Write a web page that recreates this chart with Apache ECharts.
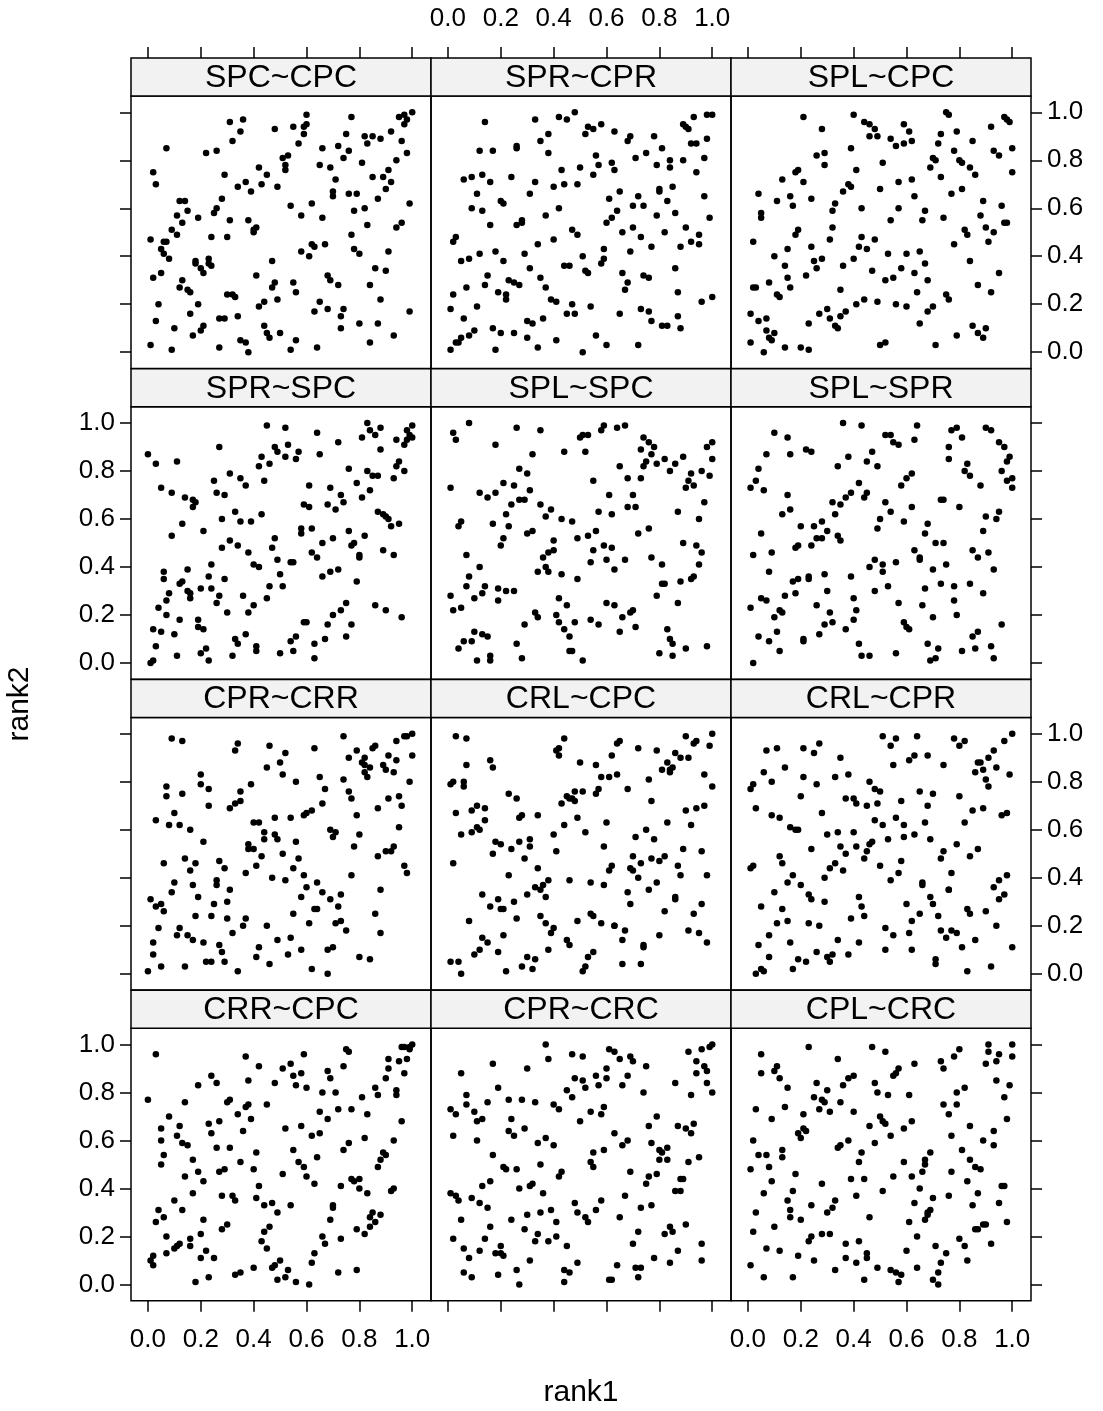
<!DOCTYPE html>
<html><head><meta charset="utf-8">
<script src="https://cdn.jsdelivr.net/npm/echarts@6/dist/echarts.min.js"></script>
<style>html,body{margin:0;padding:0;background:#fff}#c{width:1103px;height:1411px}</style>
</head><body><div id="c"></div>
<script>
const stripNames = ['SPC~CPC','SPR~CPR','SPL~CPC','SPR~SPC','SPL~SPC','SPL~SPR','CPR~CRR','CRL~CPC','CRL~CPR','CRR~CPC','CPR~CRC','CPL~CRC'];
const tickValues = [0,0.2,0.4,0.6,0.8,1.0];
const xTitle = 'rank1', yTitle = 'rank2';

const panel1 = [[1.00,1.00],[.97,.99],[.95,.98],[.98,.97],[.97,.95],[.60,.99],[.77,.98],[.31,.96],[.36,.97],[.35,.92],[.32,.88],[.48,.93],[.55,.94],[.60,.95],[.59,.94],[.59,.91],[.57,.87],[.75,.91],[.82,.90],[.85,.90],[.88,.89],[.92,.92],[.83,.87],[.96,.88],[.07,.85],[.22,.83],[.26,.84],[.66,.85],[.72,.86],[.76,.84],[.74,.81],[.98,.83],[.53,.82],[.51,.81],[.52,.78],[.52,.76],[.65,.78],[.69,.77],[.81,.79],[.94,.80],[.42,.77],[.45,.74],[.29,.74],[.02,.75],[.03,.70],[.34,.69],[.37,.71],[.39,.67],[.43,.70],[.49,.69],[.71,.72],[.85,.73],[.89,.73],[.91,.76],[.92,.71],[.90,.68],[.70,.67],[.70,.65],[.76,.66],[.79,.66],[.87,.64],[.99,.62],[.28,.64],[.12,.63],[.14,.63],[.11,.57],[.15,.59],[.13,.54],[.19,.56],[.26,.60],[.25,.58],[.54,.61],[.62,.62],[.58,.57],[.66,.56],[.78,.59],[.82,.60],[.83,.53],[.77,.49],[.96,.54],[.94,.52],[.31,.55],[.38,.55],[.41,.52],[.40,.51],[.40,.50],[.30,.48],[.24,.48],[.09,.51],[.11,.49],[.01,.47],[.06,.46],[.07,.46],[.05,.43],[.06,.41],[.08,.39],[.62,.45],[.63,.44],[.67,.45],[.58,.42],[.61,.40],[.78,.43],[.80,.41],[.91,.42],[.18,.38],[.18,.37],[.23,.39],[.23,.37],[.24,.36],[.20,.35],[.21,.33],[.47,.38],[.86,.35],[.90,.34],[.02,.31],[.05,.33],[.13,.30],[.12,.27],[.15,.26],[.16,.25],[.41,.32],[.48,.29],[.47,.27],[.55,.29],[.56,.25],[.68,.32],[.69,.30],[.72,.28],[.84,.28],[.88,.22],[.30,.24],[.32,.24],[.33,.23],[.49,.22],[.44,.21],[.42,.19],[.04,.20],[.19,.20],[.16,.16],[.03,.13],[.10,.10],[.27,.14],[.29,.14],[.34,.15],[.65,.21],[.68,.18],[.63,.17],[.74,.18],[.73,.15],[.73,.10],[.80,.12],[.87,.12],[.99,.17],[.44,.11],[.45,.08],[.46,.06],[.50,.08],[.21,.11],[.20,.09],[.17,.07],[.35,.05],[.37,.04],[.38,.00],[.27,.02],[.01,.03],[.09,.01],[.56,.05],[.54,.01],[.64,.02],[.84,.04],[.93,.07]];
const panel2 = [[.48,1.0],[.42,.98],[.45,.97],[.33,.97],[.14,.96],[.98,.99],[1.0,.99],[.93,.98],[.89,.95],[.90,.94],[.91,.93],[.58,.95],[.53,.94],[.55,.93],[.52,.91],[.63,.92],[.69,.90],[.68,.88],[.78,.90],[.98,.89],[.38,.91],[.35,.88],[.38,.83],[.26,.86],[.26,.85],[.12,.84],[.17,.84],[.94,.87],[.92,.87],[.81,.85],[.75,.83],[.71,.81],[.56,.82],[.57,.78],[.62,.79],[.63,.76],[.55,.74],[.50,.77],[.43,.76],[.79,.78],[.84,.80],[.84,.77],[.89,.80],[.97,.81],[.94,.75],[.06,.72],[.09,.73],[.13,.74],[.16,.71],[.24,.73],[.33,.71],[.31,.66],[.40,.69],[.44,.70],[.49,.70],[.11,.66],[.20,.63],[.21,.62],[.09,.60],[.13,.59],[.16,.53],[.37,.57],[.42,.60],[.26,.53],[.28,.54],[.28,.55],[.47,.51],[.49,.49],[.61,.64],[.65,.67],[.64,.59],[.62,.56],[.60,.54],[.70,.61],[.72,.65],[.74,.61],[.80,.68],[.80,.67],[.83,.63],[.85,.69],[.86,.58],[.79,.57],[.97,.65],[.99,.56],[.66,.50],[.70,.52],[.73,.48],[.82,.50],[.90,.52],[.95,.49],[.92,.46],[.95,.45],[.88,.44],[.77,.44],[.69,.42],[.02,.46],[.03,.48],[.34,.45],[.40,.47],[.59,.43],[.59,.39],[.58,.37],[.51,.40],[.44,.36],[.46,.36],[.52,.34],[.53,.33],[.29,.41],[.31,.35],[.35,.31],[.18,.42],[.21,.38],[.12,.41],[.05,.38],[.08,.39],[.15,.32],[.14,.28],[.23,.30],[.25,.29],[.27,.28],[.19,.25],[.22,.24],[.22,.22],[.07,.27],[.02,.24],[.11,.19],[.01,.18],[.06,.14],[.37,.27],[.39,.22],[.41,.21],[.47,.20],[.48,.16],[.45,.16],[.54,.19],[.36,.14],[.32,.12],[.30,.13],[.30,.06],[.34,.02],[.41,.05],[.51,.00],[.56,.07],[.60,.03],[.72,.03],[.65,.16],[.66,.33],[.68,.29],[.67,.26],[.74,.32],[.76,.31],[.86,.35],[.87,.25],[.73,.18],[.76,.17],[.77,.13],[.81,.11],[.83,.11],[.87,.15],[.88,.10],[.96,.21],[1.0,.23],[.17,.10],[.20,.08],[.25,.08],[.10,.09],[.08,.07],[.05,.06],[.03,.04],[.04,.04],[.01,.01],[.18,.01]];
const panel3 = [[.40,.99],[.21,.98],[.28,.93],[.44,.96],[.46,.95],[.48,.93],[.46,.90],[.49,.90],[.54,.89],[.56,.86],[.59,.87],[.62,.88],[.59,.95],[.61,.92],[.75,1.0],[.76,.99],[.73,.91],[.72,.87],[.79,.92],[.85,.88],[.92,.94],[.97,.98],[.98,.97],[.99,.96],[1.0,.85],[.93,.84],[.95,.82],[1.0,.75],[.26,.82],[.29,.83],[.29,.78],[.39,.85],[.51,.79],[.41,.76],[.70,.81],[.71,.80],[.69,.77],[.78,.84],[.80,.80],[.81,.79],[.84,.77],[.86,.74],[.73,.73],[.19,.76],[.18,.75],[.21,.71],[.13,.72],[.04,.66],[.11,.63],[.16,.65],[.17,.61],[.24,.64],[.38,.70],[.39,.69],[.36,.67],[.33,.62],[.32,.59],[.43,.60],[.50,.68],[.57,.71],[.62,.72],[.63,.65],[.57,.60],[.54,.55],[.67,.59],[.66,.55],[.74,.56],[.77,.66],[.81,.68],[.89,.63],[.88,.57],[.96,.61],[.97,.54],[.98,.54],[.05,.58],[.05,.56],[.32,.52],[.19,.51],[.18,.49],[.24,.44],[.31,.47],[.43,.48],[.48,.47],[.42,.44],[.45,.43],[.40,.39],[.36,.36],[.28,.39],[.25,.38],[.26,.35],[.22,.32],[.15,.43],[.10,.40],[.14,.36],[.15,.31],[.16,.27],[.08,.29],[.02,.46],[.03,.27],[.02,.27],[.11,.24],[.12,.23],[.35,.26],[.47,.34],[.52,.30],[.55,.31],[.53,.41],[.60,.41],[.58,.35],[.65,.42],[.67,.37],[.63,.33],[.68,.30],[.64,.25],[.78,.45],[.82,.51],[.83,.49],[.91,.46],[.93,.50],[.90,.52],[.84,.38],[.95,.33],[.87,.28],[.92,.25],[.75,.24],[.76,.22],[.70,.19],[.68,.17],[.65,.12],[.49,.21],[.56,.20],[.60,.19],[.44,.22],[.41,.20],[.37,.17],[.35,.15],[.30,.18],[.31,.14],[.27,.16],[.33,.11],[.34,.10],[.23,.12],[.01,.16],[.04,.13],[.07,.14],[.07,.09],[.10,.08],[.08,.06],[.09,.05],[.01,.04],[.06,.00],[.14,.02],[.20,.02],[.23,.01],[.50,.03],[.52,.04],[.71,.03],[.79,.07],[.85,.11],[.87,.08],[.89,.06],[.90,.10]];
const panel4 = [[.45,.99],[.52,.98],[.64,.96],[.83,1.0],[.88,.98],[.84,.97],[.86,.95],[.81,.94],[.98,.97],[1.0,.99],[.99,.95],[1.0,.94],[.98,.93],[.94,.93],[.97,.91],[.88,.89],[.72,.92],[.53,.91],[.48,.90],[.49,.88],[.52,.86],[.57,.88],[.56,.85],[.65,.87],[.43,.86],[.46,.83],[.42,.82],[.44,.76],[.27,.90],[.00,.87],[.03,.83],[.11,.84],[.31,.79],[.35,.77],[.37,.74],[.25,.76],[.26,.71],[.29,.70],[.05,.73],[.09,.71],[.14,.69],[.17,.68],[.18,.67],[.17,.65],[.76,.81],[.83,.80],[.85,.78],[.87,.78],[.94,.82],[.95,.84],[.97,.80],[.93,.77],[.79,.75],[.84,.72],[.81,.69],[.69,.73],[.73,.70],[.74,.67],[.71,.64],[.68,.66],[.61,.74],[.59,.66],[.61,.65],[.87,.63],[.89,.62],[.90,.61],[.91,.60],[.92,.57],[.95,.58],[.33,.63],[.28,.60],[.35,.59],[.39,.59],[.43,.62],[.13,.58],[.09,.53],[.21,.55],[.58,.56],[.58,.54],[.62,.56],[.66,.50],[.70,.52],[.76,.55],[.78,.50],[.77,.49],[.82,.53],[.80,.45],[.80,.44],[.89,.47],[.93,.45],[.62,.46],[.64,.44],[.48,.52],[.47,.48],[.49,.43],[.54,.42],[.55,.42],[.66,.36],[.69,.38],[.72,.39],[.79,.34],[.31,.51],[.34,.49],[.28,.48],[.38,.46],[.40,.41],[.42,.40],[.24,.41],[.15,.39],[.06,.38],[.06,.35],[.12,.33],[.13,.34],[.23,.36],[.29,.35],[.50,.37],[.51,.32],[.46,.32],[.15,.30],[.16,.29],[.16,.27],[.20,.31],[.24,.31],[.27,.28],[.26,.25],[.08,.29],[.07,.26],[.04,.23],[.07,.20],[.12,.18],[.36,.28],[.40,.24],[.38,.21],[.30,.21],[.45,.27],[.75,.25],[.73,.22],[.70,.20],[.68,.16],[.77,.16],[.75,.11],[.67,.10],[.63,.08],[.59,.17],[.60,.17],[.56,.11],[.54,.09],[.55,.05],[.50,.04],[.63,.02],[.86,.24],[.90,.22],[.96,.19],[.37,.12],[.33,.10],[.34,.08],[.41,.07],[.41,.05],[.32,.03],[.19,.18],[.19,.15],[.21,.14],[.02,.14],[.05,.13],[.10,.12],[.03,.07],[.11,.03],[.20,.04],[.22,.06],[.23,.01],[.01,.00],[.02,.01]];
const panel5 = [[.08,1.0],[.02,.96],[.03,.93],[.26,.98],[.35,.97],[.18,.91],[.32,.87],[.44,.88],[.52,.88],[.50,.94],[.51,.95],[.53,.95],[.58,.97],[.59,.99],[.64,.98],[.67,.99],[.74,.94],[.76,.92],[.78,.90],[.77,.87],[.73,.89],[.75,.84],[.74,.82],[.79,.83],[.82,.85],[.86,.83],[.84,.80],[.89,.86],[.65,.82],[.68,.77],[.73,.77],[.55,.76],[1.0,.92],[.98,.90],[1.0,.85],[.92,.79],[.96,.80],[.99,.78],[.91,.76],[.93,.74],[.90,.73],[.97,.67],[.95,.60],[.87,.63],[.01,.73],[.27,.81],[.30,.79],[.21,.75],[.25,.74],[.31,.72],[.12,.71],[.15,.69],[.18,.71],[.27,.68],[.29,.68],[.24,.66],[.22,.62],[.23,.57],[.35,.66],[.39,.64],[.37,.61],[.43,.60],[.47,.59],[.61,.70],[.70,.70],[.68,.65],[.71,.65],[.57,.63],[.62,.62],[.76,.56],[.72,.54],[.05,.59],[.04,.57],[.17,.58],[.30,.54],[.32,.55],[.21,.52],[.20,.49],[.40,.51],[.38,.46],[.40,.47],[.36,.44],[.37,.40],[.34,.38],[.38,.38],[.43,.37],[.49,.35],[.49,.52],[.53,.53],[.56,.55],[.55,.47],[.54,.42],[.59,.49],[.62,.48],[.60,.43],[.63,.39],[.67,.43],[.77,.44],[.81,.41],[.89,.50],[.94,.49],[.96,.46],[.95,.41],[.93,.36],[.92,.35],[.88,.34],[.82,.33],[.81,.33],[.79,.28],[.87,.25],[.07,.45],[.12,.40],[.08,.36],[.07,.32],[.14,.32],[.13,.29],[.10,.27],[.19,.31],[.22,.30],[.25,.30],[.19,.26],[.01,.28],[.02,.22],[.05,.23],[.42,.27],[.45,.24],[.33,.21],[.34,.19],[.29,.16],[.41,.20],[.42,.17],[.44,.14],[.46,.11],[.48,.17],[.54,.18],[.57,.16],[.60,.25],[.63,.24],[.69,.21],[.70,.22],[.66,.19],[.65,.13],[.71,.15],[.83,.14],[.84,.10],[.85,.08],[.90,.06],[.98,.07],[.80,.04],[.85,.03],[.10,.13],[.13,.12],[.15,.11],[.06,.09],[.09,.09],[.04,.06],[.26,.08],[.28,.02],[.11,.01],[.16,.01],[.16,.03],[.46,.05],[.47,.05],[.51,.01]];
const panel6 = [[.36,1.0],[.43,.99],[.64,.99],[.79,.98],[.77,.97],[.81,.94],[.90,.98],[.92,.97],[.95,.92],[.97,.90],[.99,.86],[.98,.84],[.96,.80],[.98,.76],[1.0,.77],[1.0,.73],[.52,.95],[.54,.95],[.55,.92],[.57,.91],[.63,.93],[.10,.96],[.15,.94],[.16,.87],[.07,.87],[.04,.81],[.22,.89],[.24,.88],[.38,.86],[.47,.88],[.45,.84],[.49,.82],[.34,.82],[.60,.77],[.62,.79],[.58,.74],[.76,.90],[.76,.85],[.83,.83],[.82,.80],[.84,.78],[.88,.74],[.01,.73],[.03,.76],[.06,.72],[.42,.75],[.39,.71],[.37,.69],[.35,.66],[.32,.67],[.33,.62],[.45,.71],[.44,.69],[.15,.70],[.16,.64],[.13,.62],[.52,.67],[.54,.63],[.50,.60],[.49,.56],[.62,.65],[.59,.59],[.73,.68],[.74,.68],[.80,.65],[.95,.63],[.90,.61],[.94,.60],[.68,.58],[.67,.54],[.89,.55],[.05,.54],[.20,.57],[.25,.57],[.28,.59],[.30,.55],[.28,.52],[.26,.52],[.34,.53],[.35,.51],[.24,.49],[.19,.49],[.18,.48],[.09,.46],[.02,.45],[.08,.38],[.63,.47],[.65,.44],[.65,.43],[.71,.50],[.74,.50],[.70,.39],[.75,.41],[.85,.47],[.87,.44],[.91,.46],[.93,.39],[.46,.40],[.48,.43],[.51,.41],[.51,.38],[.56,.42],[.39,.36],[.29,.37],[.23,.35],[.23,.36],[.19,.35],[.17,.34],[.14,.28],[.18,.29],[.30,.30],[.48,.30],[.53,.32],[.40,.27],[.26,.24],[.05,.27],[.07,.26],[.01,.23],[.12,.22],[.13,.21],[.10,.19],[.31,.21],[.32,.17],[.29,.16],[.41,.22],[.40,.18],[.37,.14],[.27,.12],[.57,.25],[.59,.17],[.60,.15],[.61,.14],[.66,.24],[.67,.31],[.73,.33],[.78,.32],[.84,.33],[.89,.29],[.78,.26],[.79,.20],[.70,.19],[.96,.16],[.87,.13],[.85,.11],[.86,.06],[.92,.07],[.93,.02],[.81,.05],[.72,.06],[.68,.08],[.69,.01],[.71,.02],[.56,.04],[.46,.03],[.43,.03],[.42,.08],[.21,.10],[.21,.09],[.11,.13],[.08,.09],[.04,.11],[.12,.05],[.02,.00]];
const panel7 = [[.74,.99],[.09,.98],[.13,.97],[.34,.96],[.33,.93],[.46,.95],[.52,.92],[.50,.88],[.51,.83],[.45,.86],[.63,.94],[.65,.82],[.56,.80],[.76,.90],[.79,.93],[.85,.94],[.86,.95],[.81,.88],[.82,.90],[.82,.87],[.84,.86],[.82,.84],[.83,.82],[.74,.81],[.91,.91],[.94,.89],[.89,.87],[.90,.85],[.93,.84],[.94,.97],[.97,.99],[.98,.99],[1.0,1.0],[1.0,.91],[.99,.80],[.67,.77],[.66,.71],[.62,.68],[.60,.67],[.59,.66],[.54,.65],[.48,.65],[.76,.76],[.77,.73],[.79,.66],[.87,.69],[.91,.73],[.95,.74],[.96,.70],[.95,.61],[.80,.58],[.78,.53],[.69,.60],[.71,.59],[.70,.57],[.87,.49],[.90,.51],[.92,.51],[.93,.53],[.97,.45],[.98,.42],[.88,.35],[.77,.41],[.20,.83],[.20,.79],[.23,.77],[.23,.70],[.39,.79],[.35,.76],[.33,.71],[.35,.72],[.31,.69],[.07,.78],[.07,.74],[.13,.75],[.10,.67],[.03,.64],[.08,.62],[.12,.62],[.16,.60],[.21,.55],[.40,.63],[.42,.63],[.44,.59],[.44,.56],[.48,.58],[.49,.56],[.56,.55],[.38,.54],[.38,.52],[.40,.52],[.51,.50],[.57,.48],[.55,.44],[.43,.49],[.41,.45],[.37,.42],[.47,.40],[.52,.39],[.59,.41],[.60,.36],[.64,.38],[.66,.34],[.58,.32],[.63,.27],[.64,.27],[.69,.31],[.73,.33],[.72,.28],[.55,.25],[.61,.21],[.71,.21],[.73,.22],[.75,.18],[.86,.25],[.88,.17],[.06,.46],[.14,.48],[.16,.43],[.18,.46],[.27,.47],[.29,.44],[.26,.39],[.26,.37],[.31,.35],[.30,.30],[.25,.29],[.17,.37],[.19,.32],[.10,.38],[.09,.34],[.01,.31],[.03,.28],[.05,.29],[.06,.26],[.18,.24],[.24,.24],[.30,.23],[.37,.23],[.36,.20],[.32,.17],[.45,.20],[.49,.14],[.54,.15],[.58,.10],[.53,.08],[.42,.11],[.41,.07],[.46,.04],[.34,.01],[.62,.02],[.68,.00],[.68,.10],[.70,.11],[.80,.07],[.84,.06],[.04,.19],[.12,.19],[.11,.16],[.15,.16],[.17,.14],[.21,.13],[.27,.12],[.28,.09],[.29,.05],[.22,.05],[.24,.05],[.02,.13],[.02,.08],[.05,.03],[.00,.01],[.14,.03]];
const panel8 = [[.03,.99],[.07,.98],[.44,.98],[.42,.94],[.41,.93],[.42,.91],[.65,.97],[.64,.96],[.72,.94],[.62,.91],[.79,.93],[.86,.92],[.88,.90],[.91,.90],[.90,.99],[.93,.96],[.94,.97],[1.0,1.0],[.99,.95],[.83,.88],[.85,.86],[.84,.85],[.84,.84],[.81,.85],[.97,.83],[1.0,.78],[.50,.88],[.56,.87],[.58,.82],[.61,.82],[.64,.83],[.57,.77],[.56,.75],[.68,.77],[.76,.81],[.77,.72],[.16,.89],[.17,.86],[.07,.87],[.01,.79],[.02,.80],[.06,.80],[.06,.78],[.23,.75],[.26,.73],[.48,.76],[.51,.76],[.45,.74],[.46,.73],[.47,.73],[.48,.72],[.43,.71],[.11,.70],[.09,.68],[.03,.67],[.14,.69],[.14,.64],[.11,.61],[.12,.60],[.09,.59],[.05,.58],[.27,.65],[.28,.66],[.34,.66],[.44,.62],[.49,.65],[.52,.59],[.60,.63],[.40,.58],[.31,.56],[.31,.53],[.27,.55],[.24,.52],[.18,.55],[.20,.54],[.17,.50],[.29,.48],[.41,.51],[.59,.53],[.71,.57],[.75,.60],[.78,.56],[.83,.63],[.90,.68],[.94,.69],[.97,.70],[.92,.62],[.89,.52],[.96,.51],[.82,.49],[.80,.47],[.77,.48],[.73,.46],[.70,.49],[.69,.44],[.70,.43],[.72,.40],[.87,.45],[.88,.41],[.98,.41],[.62,.45],[.61,.43],[.02,.46],[.23,.41],[.34,.44],[.38,.39],[.36,.37],[.35,.35],[.33,.36],[.30,.33],[.37,.32],[.46,.39],[.54,.38],[.59,.37],[.68,.34],[.69,.29],[.76,.35],[.79,.38],[.86,.31],[.86,.32],[.82,.26],[.93,.25],[.96,.29],[.13,.33],[.19,.31],[.16,.28],[.20,.27],[.21,.27],[.25,.30],[.26,.23],[.08,.22],[.35,.24],[.37,.21],[.40,.19],[.39,.17],[.49,.22],[.54,.25],[.55,.24],[.58,.21],[.63,.20],[.63,.20],[.67,.18],[.66,.14],[.80,.16],[.91,.18],[.95,.17],[.98,.13],[.74,.11],[.74,.12],[.73,.04],[.66,.04],[.45,.14],[.46,.12],[.38,.10],[.21,.16],[.13,.15],[.15,.13],[.12,.10],[.10,.08],[.19,.09],[.30,.07],[.33,.06],[.28,.03],[.32,.02],[.22,.01],[.01,.05],[.04,.05],[.05,.00],[.55,.09],[.53,.07],[.52,.03],[.51,.01]];
const panel9 = [[.51,.99],[.54,.95],[.56,.98],[.64,.99],[.78,.98],[.80,.95],[.82,.97],[1.0,1.0],[.97,.97],[.93,.93],[.91,.90],[.87,.88],[.88,.88],[.94,.86],[.89,.85],[.86,.84],[.90,.81],[.91,.78],[.99,.83],[.63,.91],[.61,.89],[.55,.87],[.68,.91],[.74,.87],[.11,.94],[.07,.93],[.21,.94],[.25,.92],[.27,.96],[.35,.90],[.14,.86],[.06,.84],[.09,.80],[.21,.82],[.26,.79],[.33,.82],[.38,.83],[.01,.77],[.02,.79],[.20,.74],[.03,.69],[.09,.66],[.12,.65],[.16,.61],[.18,.60],[.19,.60],[.28,.67],[.37,.73],[.40,.73],[.41,.71],[.45,.70],[.49,.71],[.46,.80],[.48,.77],[.50,.76],[.48,.64],[.51,.62],[.56,.65],[.59,.62],[.58,.72],[.65,.76],[.70,.75],[.68,.70],[.67,.63],[.80,.74],[.85,.68],[.89,.69],[.82,.63],[.96,.66],[.98,.67],[.30,.58],[.34,.59],[.40,.59],[.35,.53],[.41,.53],[.37,.50],[.47,.55],[.46,.54],[.45,.51],[.44,.48],[.53,.56],[.59,.57],[.63,.58],[.69,.56],[.24,.52],[.12,.49],[.13,.46],[.01,.44],[.02,.45],[.33,.46],[.31,.44],[.36,.43],[.29,.40],[.50,.45],[.58,.47],[.57,.42],[.54,.39],[.74,.51],[.73,.48],[.79,.54],[.84,.49],[.87,.52],[.77,.42],[.76,.35],[.76,.35],[.66,.38],[.66,.37],[.69,.32],[.70,.29],[.60,.29],[.65,.25],[.62,.22],[.61,.17],[.72,.24],[.73,.18],[.77,.18],[.79,.17],[.75,.15],[.81,.11],[.86,.14],[.83,.27],[.84,.25],[.90,.26],[.93,.36],[.95,.39],[.98,.41],[.97,.33],[.95,.31],[.94,.20],[1.0,.11],[.92,.03],[.83,.01],[.71,.06],[.71,.04],[.62,.10],[.55,.16],[.52,.19],[.52,.10],[.17,.41],[.15,.38],[.20,.37],[.23,.33],[.24,.31],[.29,.30],[.10,.34],[.05,.28],[.13,.27],[.15,.22],[.11,.21],[.23,.21],[.27,.20],[.42,.32],[.43,.28],[.44,.24],[.39,.23],[.34,.14],[.42,.13],[.38,.08],[.32,.08],[.30,.07],[.31,.05],[.26,.09],[.22,.05],[.19,.06],[.17,.02],[.16,.13],[.08,.16],[.04,.12],[.08,.07],[.05,.02],[.06,.01],[.03,.00]];
const panel10 = [[.03,.96],[.00,.77],[.19,.83],[.24,.87],[.26,.84],[.37,.95],[.42,.91],[.38,.85],[.30,.76],[.31,.77],[.37,.74],[.38,.75],[.34,.71],[.39,.69],[.36,.64],[.45,.75],[.14,.76],[.51,.90],[.54,.92],[.55,.87],[.58,.88],[.59,.96],[.48,.84],[.56,.83],[.60,.82],[.66,.80],[.68,.89],[.69,.86],[.71,.80],[.75,.98],[.76,.97],[.74,.91],[.65,.72],[.72,.73],[.68,.69],[.77,.73],[.81,.78],[.83,.71],[.86,.82],[.87,.79],[.90,.86],[.91,.90],[.91,.94],[.95,.93],[.97,.88],[.98,.94],[.96,.99],[.97,.99],[.99,.98],[1.0,1.0],[.99,.99],[.94,.81],[.94,.79],[.96,.68],[.93,.60],[.82,.61],[.76,.59],[.74,.56],[.89,.55],[.90,.54],[.88,.52],[.87,.49],[.05,.65],[.05,.60],[.08,.70],[.12,.66],[.11,.62],[.13,.59],[.15,.58],[.23,.67],[.24,.63],[.27,.68],[.26,.57],[.31,.57],[.06,.54],[.05,.50],[.17,.52],[.14,.45],[.19,.47],[.21,.43],[.27,.47],[.29,.48],[.35,.51],[.40,.48],[.41,.55],[.52,.65],[.58,.66],[.62,.62],[.65,.63],[.55,.56],[.57,.51],[.59,.49],[.60,.45],[.64,.53],[.63,.42],[.51,.46],[.73,.41],[.77,.44],[.78,.43],[.80,.44],[.80,.40],[.83,.38],[.92,.39],[.93,.40],[.10,.35],[.13,.31],[.17,.38],[.04,.31],[.06,.28],[.03,.26],[.07,.20],[.21,.27],[.20,.21],[.28,.23],[.30,.25],[.28,.37],[.32,.37],[.33,.35],[.41,.36],[.42,.41],[.44,.33],[.47,.34],[.49,.30],[.54,.33],[.46,.24],[.44,.22],[.43,.18],[.45,.15],[.50,.10],[.48,.08],[.47,.07],[.53,.06],[.52,.03],[.49,.02],[.56,.01],[.61,.00],[.62,.09],[.63,.13],[.66,.20],[.67,.17],[.69,.27],[.70,.32],[.70,.33],[.73,.19],[.72,.05],[.79,.06],[.79,.23],[.82,.21],[.84,.24],[.84,.28],[.85,.30],[.86,.26],[.88,.29],[.16,.19],[.16,.16],[.12,.17],[.11,.16],[.10,.15],[.07,.13],[.01,.10],[.02,.12],[.02,.08],[.20,.11],[.22,.14],[.25,.11],[.18,.01],[.23,.03],[.33,.04],[.35,.05],[.40,.07]];
const panel11 = [[.37,1.0],[.38,.94],[.47,.96],[.51,.95],[.61,.98],[.63,.97],[.65,.94],[.69,.95],[.70,.93],[.75,.91],[.60,.90],[.56,.87],[.60,.86],[.57,.83],[.68,.87],[.66,.83],[.48,.86],[.51,.85],[.52,.82],[.45,.81],[.47,.78],[.74,.80],[.91,.97],[.96,.98],[.99,.99],[1.0,1.0],[.94,.93],[.97,.91],[.98,.89],[.94,.88],[.98,.84],[1.0,.80],[.86,.84],[.92,.79],[.05,.88],[.17,.92],[.30,.90],[.19,.82],[.07,.79],[.07,.75],[.15,.76],[.10,.72],[.11,.68],[.13,.69],[.23,.77],[.28,.77],[.33,.76],[.24,.69],[.23,.64],[.25,.62],[.29,.65],[.01,.73],[.03,.71],[.02,.62],[.11,.60],[.40,.75],[.42,.73],[.54,.72],[.58,.71],[.59,.74],[.50,.68],[.34,.59],[.37,.61],[.40,.58],[.63,.63],[.66,.58],[.68,.60],[.76,.66],[.79,.70],[.77,.59],[.80,.56],[.83,.57],[.81,.55],[.80,.52],[.83,.52],[.87,.66],[.90,.65],[.93,.67],[.92,.63],[.95,.53],[.91,.51],[.59,.56],[.55,.55],[.54,.51],[.55,.49],[.17,.54],[.21,.49],[.22,.48],[.26,.48],[.35,.50],[.43,.47],[.42,.45],[.69,.47],[.76,.45],[.75,.42],[.79,.46],[.88,.44],[.89,.44],[.86,.39],[.88,.39],[.16,.43],[.13,.41],[.31,.41],[.32,.42],[.27,.40],[.36,.38],[.01,.38],[.03,.37],[.04,.35],[.09,.36],[.12,.34],[.15,.32],[.67,.37],[.58,.35],[.56,.31],[.48,.34],[.49,.30],[.52,.28],[.53,.26],[.65,.28],[.73,.32],[.77,.33],[.05,.27],[.16,.24],[.24,.27],[.30,.29],[.35,.30],[.39,.31],[.41,.26],[.29,.23],[.34,.21],[.33,.18],[.41,.20],[.38,.18],[.45,.16],[.14,.19],[.02,.19],[.06,.15],[.12,.14],[.08,.11],[.20,.16],[.18,.13],[.20,.13],[.21,.12],[.31,.10],[.49,.09],[.72,.22],[.70,.17],[.82,.21],[.84,.24],[.85,.22],[.90,.25],[.87,.14],[.96,.17],[.96,.10],[.84,.09],[.78,.11],[.64,.08],[.71,.07],[.73,.07],[.72,.03],[.61,.02],[.62,.02],[.06,.05],[.09,.03],[.19,.04],[.26,.06],[.27,.00],[.44,.06],[.46,.05],[.44,.01]];
const panel12 = [[.23,.99],[.47,.99],[.52,.97],[.05,.96],[.34,.94],[.91,1.0],[1.0,1.0],[.91,.97],[.95,.96],[1.0,.95],[.94,.93],[.90,.92],[.80,.98],[.78,.95],[.73,.93],[.74,.90],[.63,.92],[.57,.90],[.56,.88],[.55,.87],[.11,.91],[.10,.89],[.05,.88],[.12,.86],[.15,.82],[.26,.84],[.30,.81],[.38,.86],[.40,.87],[.36,.83],[.48,.84],[.49,.80],[.53,.79],[.61,.79],[.94,.85],[.99,.83],[.97,.78],[.98,.69],[.82,.82],[.79,.80],[.79,.75],[.74,.75],[.76,.71],[.84,.66],[.93,.64],[.93,.58],[.89,.60],[.77,.62],[.25,.78],[.28,.77],[.29,.76],[.27,.73],[.31,.72],[.35,.76],[.40,.72],[.14,.74],[.03,.73],[.09,.69],[.21,.71],[.19,.63],[.20,.61],[.21,.65],[.22,.64],[.50,.70],[.51,.68],[.52,.67],[.46,.66],[.54,.62],[.62,.68],[.59,.65],[.48,.59],[.38,.60],[.35,.58],[.34,.57],[.02,.60],[.13,.56],[.13,.53],[.04,.54],[.07,.54],[.01,.48],[.08,.49],[.09,.43],[.06,.38],[.03,.30],[.02,.22],[.18,.46],[.17,.39],[.15,.35],[.16,.31],[.16,.28],[.10,.24],[.20,.27],[.24,.33],[.28,.42],[.33,.35],[.32,.32],[.30,.30],[.43,.55],[.42,.51],[.39,.44],[.44,.44],[.41,.37],[.46,.28],[.51,.39],[.55,.45],[.59,.51],[.62,.45],[.66,.47],[.67,.50],[.67,.52],[.69,.55],[.65,.40],[.63,.34],[.70,.36],[.76,.37],[.77,.47],[.81,.56],[.84,.52],[.86,.49],[.88,.48],[.83,.43],[.87,.38],[.85,.33],[.96,.41],[.97,.41],[.95,.34],[.98,.26],[.68,.30],[.68,.29],[.67,.27],[.69,.31],[.61,.26],[.64,.20],[.60,.14],[.71,.16],[.75,.13],[.73,.09],[.64,.07],[.72,.05],[.70,.02],[.72,.00],[.86,.23],[.87,.23],[.89,.25],[.90,.25],[.92,.17],[.80,.19],[.82,.16],[.83,.10],[.24,.20],[.23,.18],[.28,.21],[.31,.21],[.37,.17],[.42,.18],[.45,.13],[.45,.11],[.41,.09],[.37,.11],[.33,.06],[.44,.02],[.49,.07],[.54,.06],[.56,.05],[.58,.04],[.57,.01],[.25,.10],[.19,.12],[.17,.03],[.12,.14],[.07,.15],[.01,.08],[.06,.03]];

const panels = [panel1,panel2,panel3,panel4,panel5,panel6,panel7,panel8,panel9,panel10,panel11,panel12];

const FONT = '"Liberation Sans", Arial, Helvetica, sans-serif';
const X0 = 131, PW = 300, Y0 = 58, STRIP = 38, PH = 272.5, PITCH = 310.75;
const XMIN = -0.064, XMAX = 1.071, YMIN = -0.068, YMAX = 1.068;
const TICK = 11, LBL = 26;

const grid = [], xAxis = [], yAxis = [], series = [], graphic = [];
function axisBase(showTicks, showLabels, margin, extra) {
  return Object.assign({
    type: 'value',
    axisLine: { show: false, onZero: false },
    splitLine: { show: false },
    axisTick: { show: showTicks, inside: false, customValues: tickValues, length: TICK, lineStyle: { color: '#000', width: 1.5 } },
    axisLabel: { show: showLabels, customValues: tickValues, formatter: v => v.toFixed(1),
      color: '#000', fontSize: LBL, fontFamily: FONT, margin: margin }
  }, extra);
}
for (let i = 0; i < 12; i++) {
  const r = Math.floor(i / 3), c = i % 3;
  const left = X0 + c * PW, top = Y0 + r * PITCH + STRIP;
  grid.push({ left: left, top: top, width: PW, height: PH, show: true, borderColor: '#000', borderWidth: 1.5, backgroundColor: 'transparent' });
  const xb = xAxis.length;
  xAxis.push(axisBase(r === 3, r === 3 && c !== 1, 26, { gridIndex: i, position: 'bottom', min: XMIN, max: XMAX }));
  const yl = yAxis.length;
  yAxis.push(axisBase(c === 0, c === 0 && (r === 1 || r === 3), 16, { gridIndex: i, position: 'left', min: YMIN, max: YMAX }));
  if (r === 0) xAxis.push(axisBase(true, c === 1, 26, { gridIndex: i, position: 'top', offset: STRIP, min: XMIN, max: XMAX }));
  if (c === 2) yAxis.push(axisBase(true, r === 0 || r === 2, 16, { gridIndex: i, position: 'right', min: YMIN, max: YMAX }));
  series.push({ type: 'scatter', xAxisIndex: xb, yAxisIndex: yl, data: panels[i], symbol: 'circle', symbolSize: 6.5,
    itemStyle: { color: '#000', opacity: 1 }, silent: true });
  graphic.push({ type: 'rect', shape: { x: left, y: Y0 + r * PITCH, width: PW, height: STRIP },
    style: { fill: '#f2f2f2', stroke: '#000', lineWidth: 1.5 }, z: 10 });
  graphic.push({ type: 'text', x: left + PW / 2, y: Y0 + r * PITCH + STRIP / 2 + 1,
    style: { text: stripNames[i], fontSize: 32, fontFamily: FONT, fill: '#000', align: 'center', verticalAlign: 'middle' }, z: 11 });
}
graphic.push({ type: 'text', x: 581, y: 1393, style: { text: xTitle, fontSize: 30, fontFamily: FONT, fill: '#000', align: 'center', verticalAlign: 'middle' } });
graphic.push({ type: 'text', x: 20, y: 704, rotation: Math.PI / 2, style: { text: yTitle, fontSize: 30, fontFamily: FONT, fill: '#000', align: 'center', verticalAlign: 'middle' } });

const chart = echarts.init(document.getElementById('c'), null, { renderer: 'canvas' });
chart.setOption({ animation: false, backgroundColor: '#fff', grid, xAxis, yAxis, series, graphic });
</script></body></html>
